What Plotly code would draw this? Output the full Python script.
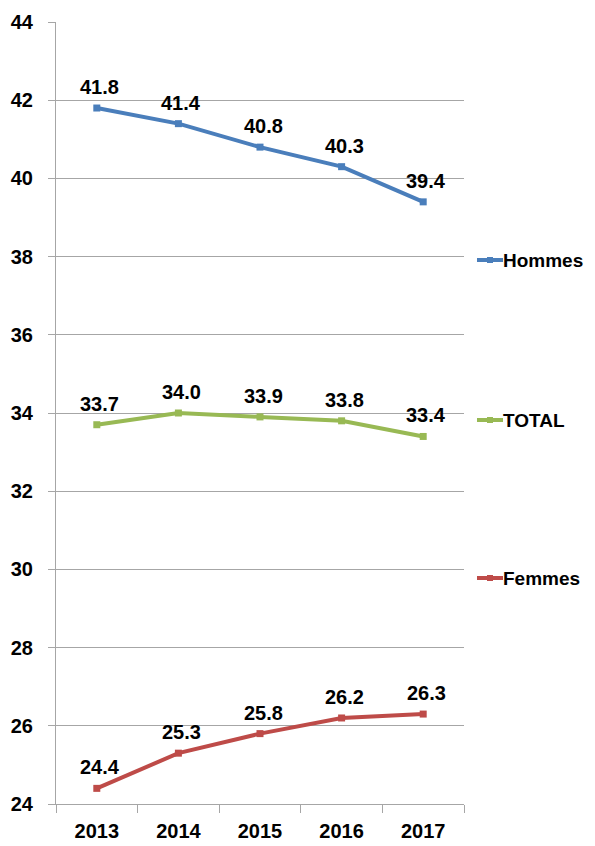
import plotly.graph_objects as go

years = ["2013", "2014", "2015", "2016", "2017"]
hommes = [41.8, 41.4, 40.8, 40.3, 39.4]
total = [33.7, 34.0, 33.9, 33.8, 33.4]
femmes = [24.4, 25.3, 25.8, 26.2, 26.3]
series_names = ["Hommes", "TOTAL", "Femmes"]
colors = ["#4A7EBB", "#98B954", "#BE4B48"]
ytick_vals = [24, 26, 28, 30, 32, 34, 36, 38, 40, 42, 44]

FONT = "Liberation Sans Narrow, Arial Narrow, Liberation Sans, Arial, sans-serif"

# page has an 8px body offset; compensate so the plot lands at the reference pixels
OFF = 8
W, H = 595 - OFF, 846 - OFF
L, T = 56 - OFF, 22 - OFF
pw, ph = 408, 782
R = W - L - pw
B = H - T - ph

def px_x(x):
    return (x - OFF - L) / pw

def px_y(y):
    return ((H - B) - (y - OFF)) / ph

fig = go.Figure()
annotations = []
for name, vals, col in zip(series_names, [hommes, total, femmes], colors):
    fig.add_trace(go.Scatter(
        x=years, y=vals, mode="lines+markers", name=name,
        line=dict(color=col, width=4),
        marker=dict(symbol="square", size=7, color=col),
        showlegend=False, cliponaxis=False,
    ))
    for i, yv in enumerate(vals):
        annotations.append(dict(x=i, y=yv, xref="x", yref="y", text=f"{yv:.1f}",
                                showarrow=False, xanchor="center", yanchor="middle",
                                xshift=3, yshift=21,
                                font=dict(family=FONT, size=20, color="black", weight="bold")))

legend_y = {"Hommes": 260, "TOTAL": 420, "Femmes": 578}
shapes = []
for name, col in zip(series_names, colors):
    yp = px_y(legend_y[name])
    shapes.append(dict(type="line", xref="paper", yref="paper",
                       x0=px_x(477), x1=px_x(503), y0=yp, y1=yp,
                       line=dict(color=col, width=4)))
    shapes.append(dict(type="rect", xref="paper", yref="paper",
                       x0=px_x(487), x1=px_x(493), y0=yp - 3 / ph, y1=yp + 3 / ph,
                       fillcolor=col, line=dict(width=0)))
    annotations.append(dict(xref="paper", yref="paper", x=px_x(501), y=yp,
                            text=name, showarrow=False, xanchor="left", yanchor="middle",
                            font=dict(family=FONT, size=19, color="black", weight="bold")))

fig.update_layout(
    width=W, height=H,
    margin=dict(l=L, r=R, t=T, b=B, pad=0, autoexpand=False),
    paper_bgcolor="white", plot_bgcolor="white",
    shapes=shapes, annotations=annotations,
    xaxis=dict(type="category", showgrid=False, showline=True, linecolor="#A6A6A6", linewidth=1,
               ticks="outside", tickson="boundaries", ticklen=8, tickcolor="#A6A6A6",
               tickfont=dict(family=FONT, size=20, color="black", weight="bold"),
               ticklabelstandoff=9, automargin=False,
               range=[-0.5, 4.5], fixedrange=True),
    yaxis=dict(range=[24, 44], tickvals=ytick_vals, showgrid=True, gridcolor="#A6A6A6", gridwidth=1,
               showline=True, linecolor="#A6A6A6", linewidth=1, ticks="outside", ticklen=7,
               tickcolor="#A6A6A6", zeroline=False, automargin=False,
               ticklabelstandoff=11,
               tickfont=dict(family=FONT, size=20, color="black", weight="bold"),
               fixedrange=True),
)

fig.write_html("out.html")
